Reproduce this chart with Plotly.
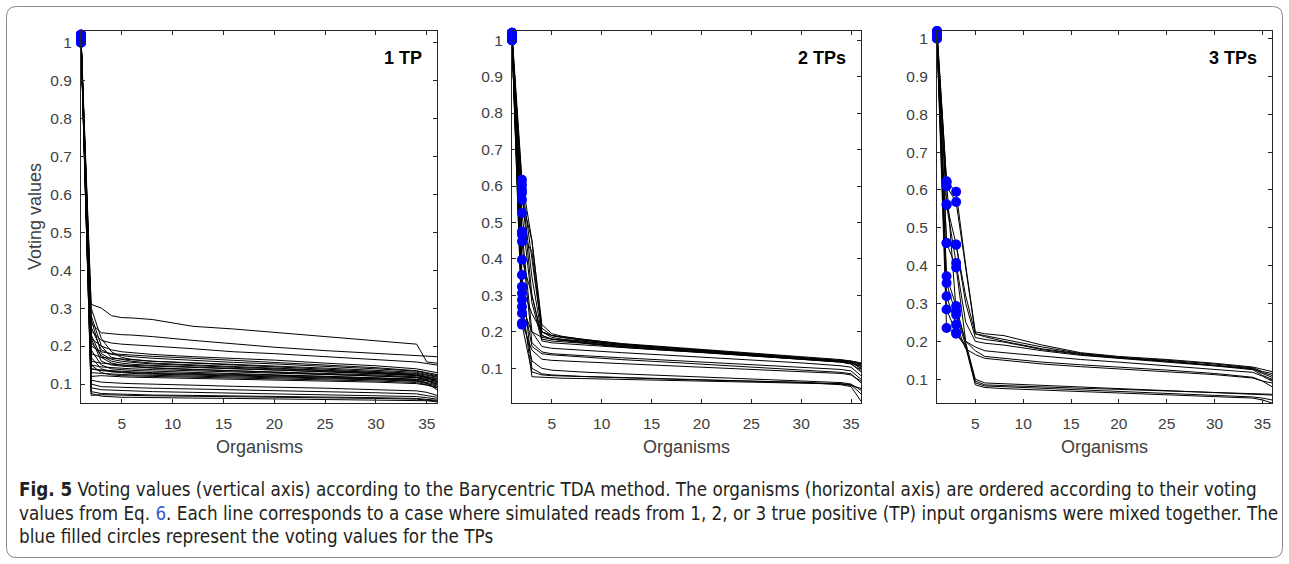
import plotly.graph_objects as go

# ---------------- data ----------------
# organism rank positions at which the values were read
X_KEY = [1, 2, 3, 4, 5, 6, 8, 12, 16, 20, 25, 30, 34, 35, 36]

# Panel 1: 1 TP (voting values of each case)
TP1_LINES = [
    [1.02, 0.31, 0.30, 0.28, 0.275, 0.274, 0.27, 0.252, 0.245, 0.236, 0.225, 0.215, 0.205, 0.158, 0.155],
    [1.01, 0.26, 0.235, 0.232, 0.230, 0.229, 0.225, 0.215, 0.205, 0.197, 0.188, 0.180, 0.175, 0.172, 0.172],
    [1.00, 0.24, 0.215, 0.208, 0.205, 0.203, 0.20, 0.193, 0.185, 0.18, 0.172, 0.165, 0.158, 0.154, 0.15],
    [1.015, 0.22, 0.20, 0.19, 0.185, 0.182, 0.178, 0.172, 0.168, 0.163, 0.155, 0.148, 0.14, 0.135, 0.13],
    [1.005, 0.20, 0.185, 0.18, 0.178, 0.176, 0.173, 0.168, 0.163, 0.158, 0.15, 0.143, 0.135, 0.13, 0.125],
    [1.02, 0.25, 0.19, 0.178, 0.175, 0.172, 0.168, 0.162, 0.157, 0.153, 0.147, 0.14, 0.134, 0.128, 0.122],
    [1.00, 0.18, 0.17, 0.168, 0.165, 0.163, 0.16, 0.156, 0.152, 0.148, 0.142, 0.136, 0.131, 0.125, 0.12],
    [1.01, 0.28, 0.20, 0.17, 0.165, 0.16, 0.155, 0.15, 0.146, 0.142, 0.137, 0.131, 0.126, 0.12, 0.115],
    [1.015, 0.16, 0.155, 0.152, 0.15, 0.149, 0.147, 0.143, 0.14, 0.137, 0.133, 0.128, 0.123, 0.118, 0.113],
    [1.005, 0.22, 0.16, 0.15, 0.147, 0.145, 0.142, 0.138, 0.135, 0.132, 0.128, 0.124, 0.119, 0.115, 0.11],
    [1.02, 0.15, 0.145, 0.143, 0.141, 0.14, 0.138, 0.135, 0.132, 0.13, 0.126, 0.121, 0.117, 0.112, 0.107],
    [1.00, 0.19, 0.15, 0.14, 0.138, 0.136, 0.134, 0.131, 0.128, 0.125, 0.121, 0.117, 0.113, 0.109, 0.104],
    [1.01, 0.14, 0.137, 0.135, 0.133, 0.132, 0.13, 0.128, 0.126, 0.123, 0.12, 0.116, 0.112, 0.108, 0.10],
    [1.015, 0.17, 0.14, 0.132, 0.13, 0.128, 0.126, 0.124, 0.121, 0.119, 0.116, 0.113, 0.109, 0.104, 0.098],
    [1.005, 0.13, 0.128, 0.126, 0.125, 0.124, 0.123, 0.121, 0.119, 0.117, 0.114, 0.111, 0.107, 0.102, 0.095],
    [1.02, 0.21, 0.175, 0.16, 0.155, 0.152, 0.149, 0.145, 0.141, 0.138, 0.133, 0.127, 0.122, 0.117, 0.11],
    [1.00, 0.30, 0.22, 0.185, 0.17, 0.165, 0.16, 0.155, 0.15, 0.146, 0.14, 0.134, 0.128, 0.123, 0.118],
    [1.01, 0.12, 0.122, 0.12, 0.119, 0.118, 0.117, 0.115, 0.113, 0.111, 0.108, 0.105, 0.101, 0.097, 0.09],
    [1.015, 0.15, 0.13, 0.124, 0.122, 0.121, 0.12, 0.118, 0.116, 0.114, 0.111, 0.108, 0.104, 0.099, 0.092],
    [1.005, 0.27, 0.18, 0.165, 0.16, 0.157, 0.153, 0.148, 0.144, 0.14, 0.135, 0.13, 0.124, 0.118, 0.105],
    [1.02, 0.14, 0.135, 0.133, 0.131, 0.13, 0.128, 0.126, 0.124, 0.121, 0.118, 0.114, 0.11, 0.103, 0.085],
    [1.00, 0.23, 0.17, 0.155, 0.15, 0.147, 0.143, 0.139, 0.135, 0.131, 0.127, 0.122, 0.117, 0.11, 0.10],
    [1.01, 0.11, 0.105, 0.103, 0.102, 0.101, 0.10, 0.097, 0.094, 0.092, 0.089, 0.085, 0.082, 0.078, 0.07],
    [1.015, 0.10, 0.093, 0.092, 0.091, 0.09, 0.089, 0.087, 0.085, 0.083, 0.08, 0.077, 0.074, 0.07, 0.065],
    [1.005, 0.09, 0.085, 0.084, 0.083, 0.082, 0.08, 0.078, 0.076, 0.075, 0.073, 0.07, 0.067, 0.064, 0.06],
    [1.02, 0.07, 0.072, 0.071, 0.07, 0.07, 0.069, 0.068, 0.067, 0.066, 0.064, 0.062, 0.06, 0.058, 0.055],
    [1.00, 0.08, 0.075, 0.074, 0.073, 0.072, 0.071, 0.07, 0.069, 0.068, 0.066, 0.064, 0.062, 0.06, 0.057],
    [1.01, 0.075, 0.068, 0.066, 0.065, 0.065, 0.064, 0.063, 0.062, 0.061, 0.06, 0.059, 0.058, 0.056, 0.053],
]

# Panel 2: 2 TPs
TP2_LINES = [
    [1.02, 0.617, 0.45, 0.21, 0.19, 0.185, 0.178, 0.165, 0.158, 0.15, 0.14, 0.13, 0.122, 0.118, 0.10],
    [1.00, 0.604, 0.40, 0.20, 0.185, 0.18, 0.175, 0.163, 0.155, 0.148, 0.138, 0.128, 0.12, 0.115, 0.11],
    [1.01, 0.59, 0.35, 0.19, 0.18, 0.178, 0.172, 0.16, 0.152, 0.146, 0.136, 0.126, 0.118, 0.113, 0.108],
    [1.015, 0.581, 0.30, 0.18, 0.175, 0.173, 0.169, 0.158, 0.15, 0.143, 0.134, 0.125, 0.117, 0.112, 0.095],
    [1.005, 0.562, 0.45, 0.22, 0.195, 0.188, 0.18, 0.167, 0.158, 0.15, 0.141, 0.131, 0.123, 0.12, 0.115],
    [1.00, 0.526, 0.28, 0.175, 0.17, 0.168, 0.165, 0.157, 0.15, 0.144, 0.135, 0.125, 0.117, 0.113, 0.09],
    [1.02, 0.475, 0.20, 0.16, 0.155, 0.153, 0.15, 0.143, 0.137, 0.131, 0.123, 0.115, 0.107, 0.103, 0.08],
    [1.01, 0.466, 0.42, 0.20, 0.19, 0.186, 0.18, 0.168, 0.16, 0.152, 0.143, 0.132, 0.124, 0.12, 0.113],
    [1.00, 0.448, 0.17, 0.145, 0.14, 0.138, 0.135, 0.129, 0.123, 0.118, 0.111, 0.104, 0.097, 0.093, 0.07],
    [1.015, 0.398, 0.30, 0.19, 0.18, 0.176, 0.17, 0.16, 0.153, 0.146, 0.137, 0.128, 0.12, 0.115, 0.105],
    [1.005, 0.356, 0.10, 0.085, 0.082, 0.08, 0.078, 0.075, 0.072, 0.069, 0.066, 0.062, 0.058, 0.055, 0.03],
    [1.00, 0.324, 0.25, 0.20, 0.19, 0.185, 0.178, 0.166, 0.158, 0.15, 0.14, 0.13, 0.122, 0.118, 0.112],
    [1.02, 0.306, 0.16, 0.14, 0.137, 0.135, 0.131, 0.124, 0.118, 0.112, 0.104, 0.096, 0.089, 0.085, 0.06],
    [1.01, 0.288, 0.077, 0.075, 0.074, 0.073, 0.072, 0.07, 0.068, 0.066, 0.063, 0.06, 0.057, 0.053, 0.045],
    [1.00, 0.269, 0.20, 0.185, 0.18, 0.178, 0.174, 0.163, 0.155, 0.148, 0.139, 0.129, 0.121, 0.117, 0.10],
    [1.015, 0.251, 0.12, 0.10, 0.095, 0.093, 0.09, 0.085, 0.081, 0.077, 0.072, 0.066, 0.061, 0.057, 0.04],
    [1.005, 0.224, 0.15, 0.125, 0.122, 0.12, 0.118, 0.113, 0.108, 0.104, 0.098, 0.092, 0.086, 0.082, 0.065],
    [1.00, 0.22, 0.09, 0.082, 0.08, 0.079, 0.077, 0.074, 0.071, 0.068, 0.065, 0.062, 0.055, 0.05, 0.01],
]

# Panel 3: 3 TPs
TP3_LINES = [
    [1.02, 0.623, 0.595, 0.40, 0.225, 0.22, 0.215, 0.19, 0.17, 0.16, 0.152, 0.142, 0.132, 0.125, 0.12],
    [1.00, 0.61, 0.568, 0.39, 0.22, 0.215, 0.205, 0.185, 0.168, 0.158, 0.15, 0.14, 0.13, 0.12, 0.115],
    [1.01, 0.562, 0.456, 0.30, 0.21, 0.205, 0.198, 0.178, 0.165, 0.156, 0.147, 0.137, 0.127, 0.118, 0.11],
    [1.015, 0.46, 0.455, 0.32, 0.22, 0.212, 0.20, 0.18, 0.167, 0.157, 0.148, 0.138, 0.128, 0.115, 0.105],
    [1.005, 0.56, 0.407, 0.25, 0.20, 0.195, 0.19, 0.175, 0.163, 0.155, 0.145, 0.135, 0.125, 0.11, 0.10],
    [1.00, 0.46, 0.395, 0.20, 0.185, 0.175, 0.17, 0.16, 0.152, 0.145, 0.136, 0.127, 0.118, 0.108, 0.095],
    [1.02, 0.62, 0.28, 0.20, 0.175, 0.16, 0.155, 0.145, 0.138, 0.132, 0.124, 0.115, 0.105, 0.095, 0.08],
    [1.01, 0.319, 0.244, 0.18, 0.165, 0.155, 0.15, 0.14, 0.133, 0.127, 0.12, 0.112, 0.103, 0.095, 0.09],
    [1.00, 0.372, 0.293, 0.20, 0.10, 0.09, 0.088, 0.083, 0.079, 0.075, 0.07, 0.066, 0.062, 0.06, 0.058],
    [1.015, 0.354, 0.27, 0.19, 0.095, 0.085, 0.083, 0.079, 0.076, 0.073, 0.069, 0.065, 0.062, 0.06, 0.06],
    [1.005, 0.284, 0.223, 0.19, 0.09, 0.082, 0.08, 0.076, 0.072, 0.068, 0.063, 0.058, 0.053, 0.05, 0.045],
    [1.00, 0.235, 0.22, 0.185, 0.085, 0.078, 0.075, 0.071, 0.068, 0.064, 0.059, 0.054, 0.05, 0.045, 0.037],
]

PANEL_LABELS = ["1 TP", "2 TPs", "3 TPs"]
N_TP = [1, 2, 3]
X_TICKS = [5, 10, 15, 20, 25, 30, 35]
X_RANGE = [1, 36]
Y_TICKS = [0.1, 0.2, 0.3, 0.4, 0.5, 0.6, 0.7, 0.8, 0.9, 1.0]
Y_TICK_TEXT = ["0.1", "0.2", "0.3", "0.4", "0.5", "0.6", "0.7", "0.8", "0.9", "1"]
Y_RANGES = [[0.05, 1.03], [0.005, 1.025], [0.037, 1.02]]

CAPTION = [
    "<b>Fig. 5</b> Voting values (vertical axis) according to the Barycentric TDA method. The organisms (horizontal axis) are ordered according to their voting",
    "values from Eq. <span style='color:#3b5bd0'>6</span>. Each line corresponds to a case where simulated reads from 1, 2, or 3 true positive (TP) input organisms were mixed together. The",
    "blue filled circles represent the voting values for the TPs",
]

# ---------------- layout geometry ----------------
W, H = 1289, 564
PLOT_PX = [(81, 437), (512, 861), (937, 1272)]
TOP_PX, BOT_PX = 31, 403

fig = go.Figure()
all_lines = [TP1_LINES, TP2_LINES, TP3_LINES]

for i, lines in enumerate(all_lines):
    sfx = "" if i == 0 else str(i + 1)
    xs, ys = [], []
    for ln in lines:
        xs += X_KEY + [None]
        ys += ln + [None]
    fig.add_trace(go.Scatter(x=xs, y=ys, mode="lines",
                             line=dict(color="black", width=1),
                             xaxis="x" + sfx, yaxis="y" + sfx,
                             showlegend=False, hoverinfo="skip"))
    mx, my = [], []
    for ln in lines:
        for k in range(N_TP[i]):
            mx.append(X_KEY[k])
            my.append(ln[k])
    fig.add_trace(go.Scatter(x=mx, y=my, mode="markers",
                             marker=dict(color="#0000ff", size=10, line=dict(width=0)),
                             xaxis="x" + sfx, yaxis="y" + sfx, cliponaxis=False,
                             showlegend=False))

axis_common = dict(showline=True, linecolor="#262626", linewidth=1, mirror="ticks",
                   ticks="inside", ticklen=4, tickcolor="#262626", tickwidth=1,
                   showgrid=False, zeroline=False,
                   tickfont=dict(family="Liberation Sans, Arial", size=15.5, color="#404040"))

layout = dict(width=W, height=H, margin=dict(l=0, r=0, t=0, b=0),
              paper_bgcolor="white", plot_bgcolor="white", showlegend=False)
annotations = []
for i in range(3):
    sfx = "" if i == 0 else str(i + 1)
    x0, x1 = PLOT_PX[i]
    layout["xaxis" + sfx] = dict(axis_common, domain=[x0 / W, x1 / W], range=X_RANGE,
                                 tickvals=X_TICKS, ticklabelstandoff=6,
                                 anchor="y" + sfx)
    layout["yaxis" + sfx] = dict(axis_common, domain=[1 - BOT_PX / H, 1 - TOP_PX / H],
                                 range=Y_RANGES[i], tickvals=Y_TICKS, ticktext=Y_TICK_TEXT,
                                 ticklabelstandoff=5, anchor="x" + sfx)
    annotations.append(dict(text="<b>%s</b>" % PANEL_LABELS[i], xref="x%s domain" % sfx,
                            yref="y%s domain" % sfx, x=0.963 if i == 0 else 0.962,
                            y=0.927, xanchor="right", yanchor="middle", showarrow=False,
                            font=dict(family="Liberation Sans, Arial", size=18, color="black")))
    annotations.append(dict(text="Organisms", xref="paper", yref="paper",
                            x=(x0 + x1) / 2 / W, y=1 - 447 / H, xanchor="center",
                            yanchor="middle", showarrow=False,
                            font=dict(family="Liberation Sans, Arial", size=18, color="#404040")))

annotations.append(dict(text="Voting values", xref="paper", yref="paper",
                        x=35 / W, y=1 - 217 / H, textangle=-90, xanchor="center",
                        yanchor="middle", showarrow=False,
                        font=dict(family="Liberation Sans, Arial", size=18, color="#404040")))

cap_y = [489, 513, 536]
for txt, yy in zip(CAPTION, cap_y):
    annotations.append(dict(text=txt, xref="paper", yref="paper", x=17 / W, y=1 - yy / H,
                            xanchor="left", yanchor="middle", showarrow=False,
                            font=dict(family="DejaVu Sans Condensed, Roboto, sans-serif",
                                      size=18.7, color="#231f20")))

layout["annotations"] = annotations

# rounded frame around the figure
l, r, t, b = 6.5, 1282.5, 6.5, 557.5
rad = 10
def px(xp):
    return xp / W
def py(yp):
    return 1 - yp / H
path = (f"M {px(l+rad)} {py(t)} L {px(r-rad)} {py(t)} Q {px(r)} {py(t)} {px(r)} {py(t+rad)} "
        f"L {px(r)} {py(b-rad)} Q {px(r)} {py(b)} {px(r-rad)} {py(b)} "
        f"L {px(l+rad)} {py(b)} Q {px(l)} {py(b)} {px(l)} {py(b-rad)} "
        f"L {px(l)} {py(t+rad)} Q {px(l)} {py(t)} {px(l+rad)} {py(t)} Z")
layout["shapes"] = [dict(type="path", path=path, xref="paper", yref="paper",
                         line=dict(color="#8a8a8a", width=1), layer="below")]

fig.update_layout(**layout)
fig.write_html("out.html", config={"displayModeBar": False},
               post_script="document.body.style.margin='0';")
